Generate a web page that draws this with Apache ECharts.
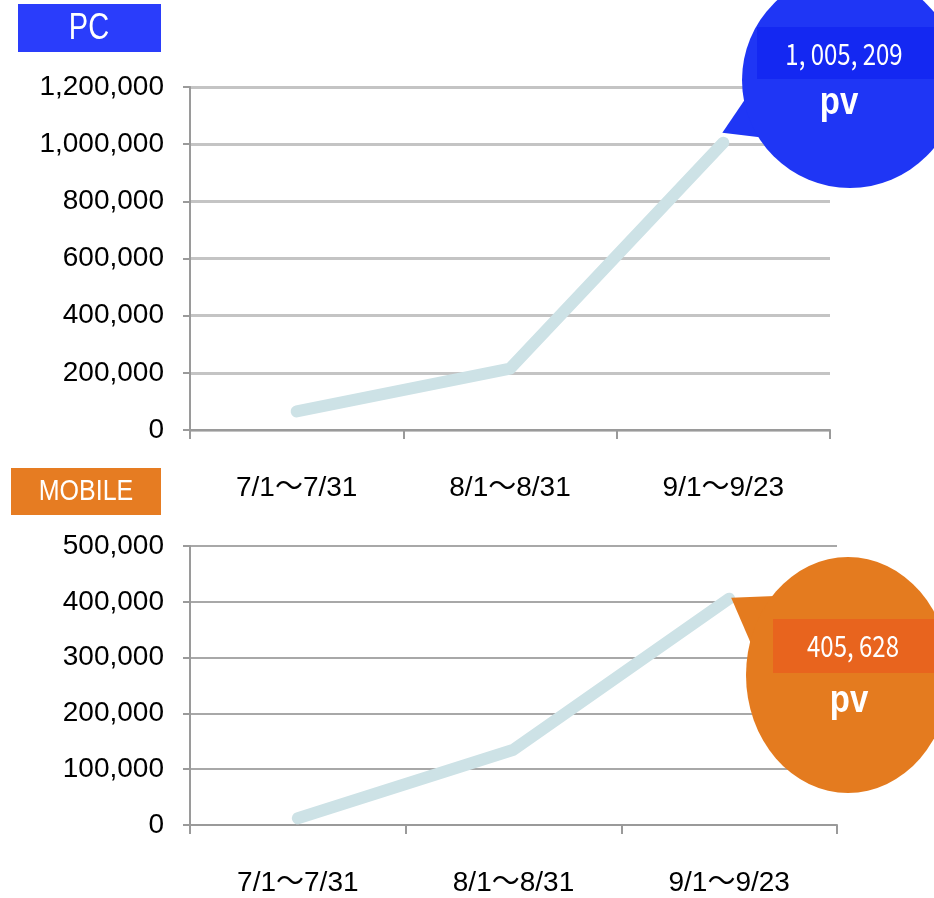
<!DOCTYPE html>
<html>
<head>
<meta charset="utf-8">
<script src="https://cdn.jsdelivr.net/npm/echarts@6/dist/echarts.min.js"></script>
<style>html,body{margin:0;padding:0;background:#fff}#c{width:934px;height:898px}</style>
</head>
<body>
<div id="c"></div>
<script>
const categories = ['7/1〜7/31', '8/1〜8/31', '9/1〜9/23'];
const pcValues = [65000, 215000, 1005209];
const mobileValues = [12000, 135000, 405628];
const pcAxis = { min: 0, max: 1200000, interval: 200000 };
const mobileAxis = { min: 0, max: 500000, interval: 100000 };
const unitLabel = 'pv';
const panelTitles = ['PC', 'MOBILE'];

const FONT = '"Liberation Sans", Arial, "Noto Sans CJK JP", sans-serif';
const CJK = '"Noto Sans CJK JP", sans-serif';
const chart = echarts.init(document.getElementById('c'), null, { renderer: 'canvas' });

function xAxisCfg(grid, margin) {
  return {
    gridIndex: grid, type: 'category', data: categories, boundaryGap: true,
    axisLine: { lineStyle: { color: '#9a9a9a', width: 2 } },
    axisTick: { show: true, length: 9, alignWithLabel: false, lineStyle: { color: '#9a9a9a', width: 2 } },
    axisLabel: { fontSize: 28, color: '#000', margin: margin, fontFamily: FONT }
  };
}
function yAxisCfg(grid, ax, splitColor, splitWidth) {
  return {
    gridIndex: grid, type: 'value', min: ax.min, max: ax.max, interval: ax.interval,
    axisLine: { show: true, lineStyle: { color: '#9a9a9a', width: 2 } },
    axisTick: { show: true, length: 7, lineStyle: { color: '#9a9a9a', width: 2 } },
    splitLine: { show: true, lineStyle: { color: splitColor, width: splitWidth } },
    axisLabel: { fontSize: 28, color: '#000', margin: 26, fontFamily: FONT,
      formatter: v => v.toLocaleString('en-US') }
  };
}
function lineSeries(i, data) {
  return {
    type: 'line', xAxisIndex: i, yAxisIndex: i, data: data, symbol: 'none', smooth: false,
    lineStyle: { color: '#cde2e6', width: 12, cap: 'round', join: 'round' }, z: 3
  };
}

chart.setOption({
  animation: false,
  grid: [
    { left: 190, right: 104, top: 87, height: 343 },
    { left: 190, right: 97, top: 546, height: 279 }
  ],
  xAxis: [xAxisCfg(0, 44), xAxisCfg(1, 44)],
  yAxis: [yAxisCfg(0, pcAxis, '#c4c4c4', 3), yAxisCfg(1, mobileAxis, '#a8a8a8', 2)],
  series: [lineSeries(0, pcValues), lineSeries(1, mobileValues)]
});

function fmtVal(n) { return n.toLocaleString('en-US').replace(/,/g, ', '); }

const pcTip = chart.convertToPixel({ xAxisIndex: 0, yAxisIndex: 0 }, [categories[2], pcValues[2]]);
const mbTip = chart.convertToPixel({ xAxisIndex: 1, yAxisIndex: 1 }, [categories[2], mobileValues[2]]);

function ellipse(cx, cy, rx, ry, color) {
  return { type: 'circle', x: cx, y: cy, scaleX: rx / 100, scaleY: ry / 100,
    shape: { cx: 0, cy: 0, r: 100 }, style: { fill: color }, z: 10 };
}
function box(x, y, w, h, color) {
  return { type: 'rect', shape: { x: x, y: y, width: w, height: h }, style: { fill: color }, z: 11 };
}
function txt(x, y, text, size, weight, family, sy) {
  return { type: 'text', x: x, y: y, scaleY: sy || 1, z: 12,
    style: { text: text, fill: '#fff', fontSize: size, fontWeight: weight, fontFamily: family,
      align: 'center', verticalAlign: 'middle' } };
}

const blue = '#1f36f5', orange = '#e47b1f';
chart.setOption({
  graphic: [
    // panel tags
    box(18, 4, 143, 48, '#2a3dfb'),
    txt(89, 29, panelTitles[0], 29, 'normal', FONT, 1.25),
    box(11, 468, 150, 47, '#e67c22'),
    txt(86, 492, panelTitles[1], 25, 'normal', FONT, 1.2),
    // PC callout
    { type: 'polygon', shape: { points: [[pcTip[0] - 1, pcTip[1] - 10], [750, 92], [766, 138]] }, style: { fill: blue }, z: 10 },
    ellipse(850, 80, 108, 108, blue),
    box(757, 27, 177, 52, '#1428f2'),
    txt(844, 54, fmtVal(pcValues[2]), 24, 'normal', CJK, 1.22),
    txt(839, 104, unitLabel, 33, 'bold', FONT, 1.15),
    // MOBILE callout
    { type: 'polygon', shape: { points: [[mbTip[0] + 2, mbTip[1] - 1], [775, 596], [752, 646]] }, style: { fill: orange }, z: 10 },
    ellipse(848, 675, 102, 118, orange),
    box(773, 619, 161, 54, '#e8641e'),
    txt(853, 646, fmtVal(mobileValues[2]), 24, 'normal', CJK, 1.22),
    txt(849, 702, unitLabel, 33, 'bold', FONT, 1.15)
  ]
});
</script>
</body>
</html>
